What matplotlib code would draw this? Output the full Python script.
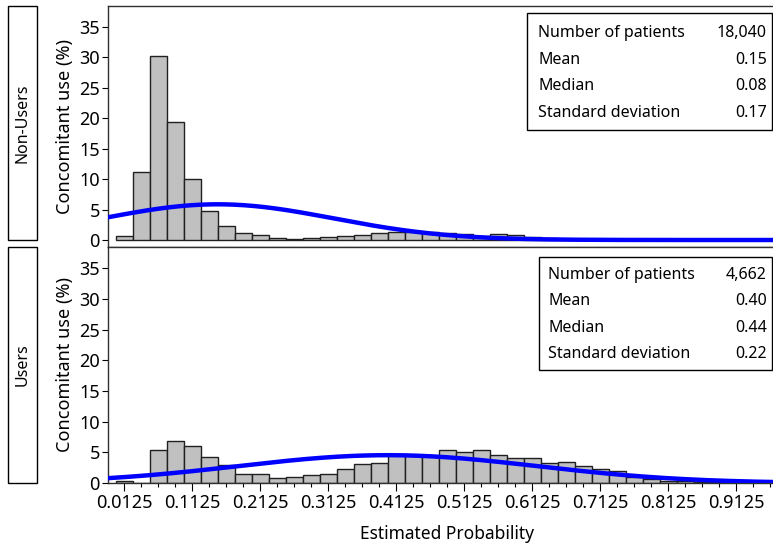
import numpy as np
import matplotlib
matplotlib.use("Agg")
import matplotlib.pyplot as plt
from matplotlib.patches import Rectangle
from matplotlib.ticker import MultipleLocator, FixedLocator


# bin edges every 0.025 from 0 to 1, heights in percent
bin_width = 0.025
non_users_pct = [0.7, 11.1, 30.3, 19.4, 10.0, 4.8, 2.3, 1.2, 0.8, 0.4,
	0.2, 0.4, 0.55, 0.7, 0.9, 1.1, 1.3, 1.25, 1.25, 1.1,
	1.0, 0.66, 0.93, 0.77, 0.55, 0.38, 0.16, 0.16, 0.08, 0.08,
	0.06, 0.05, 0.03, 0.02, 0.02, 0.01, 0.01, 0.01, 0.0, 0.0]
users_pct = [0.3, 0.0, 5.4, 6.8, 6.0, 4.3, 3.0, 1.5, 1.5, 0.8,
	1.0, 1.35, 1.5, 2.3, 3.1, 3.3, 4.6, 4.6, 4.4, 5.3,
	5.1, 5.3, 4.6, 4.1, 4.0, 3.2, 3.4, 2.8, 2.2, 1.9,
	1.0, 0.6, 0.4, 0.25, 0.15, 0.1, 0.05, 0.05, 0.02, 0.02]

groups = ["Non-Users", "Users"]
stat_names = ["Number of patients", "Mean", "Median", "Standard deviation"]
non_users_stats = ["18,040", "0.15", "0.08", "0.17"]
users_stats = ["4,662", "0.40", "0.44", "0.22"]
means = [0.15, 0.40]
sds = [0.17, 0.22]

x_ticks = [0.0125, 0.1125, 0.2125, 0.3125, 0.4125, 0.5125, 0.6125, 0.7125, 0.8125, 0.9125]

W, H = 773, 550
FONT = "Noto Sans"
FS = 11.5
FS_TICK = 13
FS_LABEL = 12.5


def px_rect(x0, y0, x1, y1):
	# pixel box (origin top-left) -> figure fraction [l, b, w, h]
	return [x0 / W, 1 - y1 / H, (x1 - x0) / W, (y1 - y0) / H]


def draw_panel(ax, pct, mean, sd, ylow, show_x):
	edges = np.arange(len(pct)) * bin_width
	ax.bar(edges, pct, width=bin_width, align="edge", color="#c0c0c0",
		edgecolor="#202020", linewidth=1.0, zorder=2)
	xs = np.linspace(-0.011, 0.986, 400)
	curve = np.exp(-0.5 * ((xs - mean) / sd) ** 2) / (sd * np.sqrt(2 * np.pi))
	ax.plot(xs, curve * bin_width * 100, color="#0000ff", lw=3.2, zorder=3)

	ax.set_xlim(-0.011, 0.986)
	ax.set_ylim(ylow, 38.5)
	ax.yaxis.set_major_locator(MultipleLocator(5))
	ax.set_ylabel("Concomitant use (%)", fontsize=FS_LABEL + 0.5, family=FONT, labelpad=4)
	ax.tick_params(axis="y", direction="out", length=4, labelsize=FS_TICK, width=0.8, pad=2)
	for lab in ax.get_yticklabels():
		lab.set_family(FONT)
	if show_x:
		ax.xaxis.set_major_locator(FixedLocator(x_ticks))
		ax.xaxis.set_minor_locator(FixedLocator(np.arange(0.0125, 0.99, 0.025)))
		ax.set_xticklabels([f"{t:.4f}" for t in x_ticks], fontsize=FS_TICK, family=FONT)
		ax.tick_params(axis="x", which="major", direction="out", length=6, width=0.8, pad=2)
		ax.tick_params(axis="x", which="minor", direction="out", length=3, width=0.8)
		ax.set_xlabel("Estimated Probability", fontsize=FS_LABEL, family=FONT, labelpad=9)
	else:
		ax.set_xticks([])
	for s in ax.spines.values():
		s.set_color("#303030")
		s.set_linewidth(1.0)


def draw_stats(fig, box, rows_y, left_x, right_x, values):
	x0, y0, x1, y1 = box
	fig.add_artist(Rectangle((x0 / W, 1 - y1 / H), (x1 - x0) / W, (y1 - y0) / H,
		transform=fig.transFigure, fill=True, facecolor="white",
		edgecolor="black", linewidth=1.0, zorder=5))
	for name, val, y in zip(stat_names, values, rows_y):
		fig.text(left_x / W, 1 - y / H, name, ha="left", va="center",
			fontsize=FS, family=FONT, zorder=6)
		fig.text(right_x / W, 1 - y / H, val, ha="right", va="center",
			fontsize=FS, family=FONT, zorder=6)


def draw_strip(fig, box, label):
	x0, y0, x1, y1 = box
	fig.add_artist(Rectangle((x0 / W, 1 - y1 / H), (x1 - x0) / W, (y1 - y0) / H,
		transform=fig.transFigure, fill=False, edgecolor="black", linewidth=1.0))
	fig.text((x0 + x1) / 2 / W, 1 - (y0 + y1) / 2 / H, label, rotation=90,
		ha="center", va="center", fontsize=FS, family=FONT)


def main():
	fig = plt.figure(figsize=(W / 100, H / 100), dpi=100)
	ax_top = fig.add_axes(px_rect(108.3, 5.7, 786, 246.7))
	ax_bot = fig.add_axes(px_rect(108.3, 246.7, 786, 483))

	draw_panel(ax_top, non_users_pct, means[0], sds[0], -1.1, False)
	draw_panel(ax_bot, users_pct, means[1], sds[1], 0, True)

	draw_stats(fig, (527, 13, 772, 130), [33, 60, 86, 113], 538, 767, non_users_stats)
	draw_stats(fig, (539, 257, 772, 370), [275, 301, 328, 354], 548, 767, users_stats)

	draw_strip(fig, (8, 6, 37, 240), groups[0])
	draw_strip(fig, (8, 247, 37, 483), groups[1])

	fig.savefig("out.png", dpi=100)


if __name__ == '__main__':
	main()
